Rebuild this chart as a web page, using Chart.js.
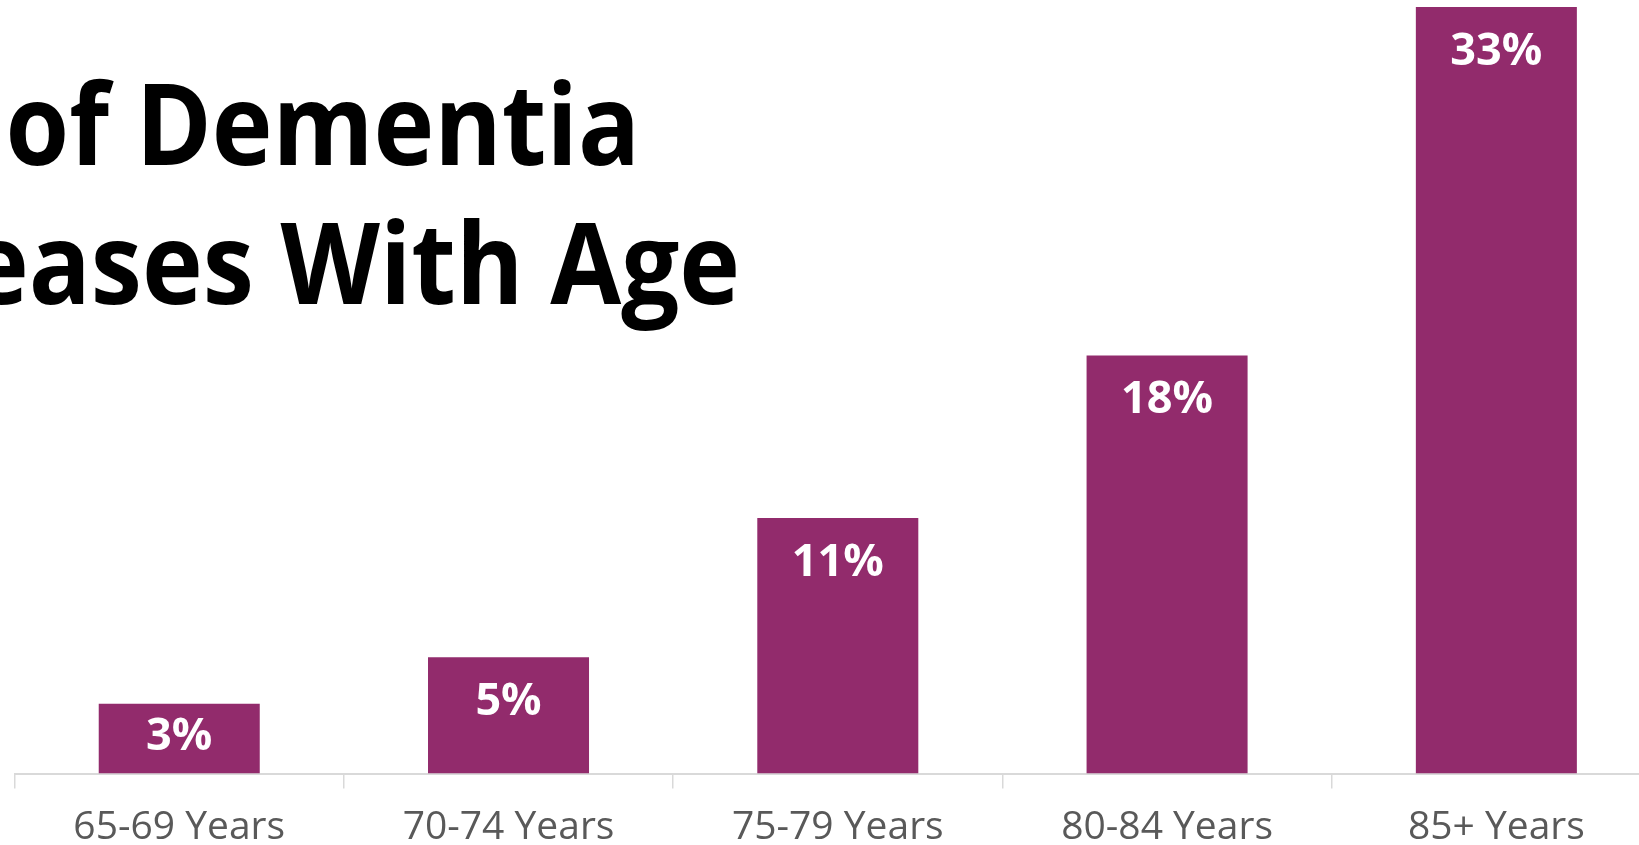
<!DOCTYPE html>
<html>
<head>
<meta charset="utf-8">
<script src="https://cdn.jsdelivr.net/npm/chart.js@4.4.1/dist/chart.umd.min.js"></script>
<style>
  html, body { margin: 0; padding: 0; background: #fff; overflow: hidden; }
  #wrap { position: absolute; left: 0; top: 0; width: 1680px; height: 845px; }
</style>
</head>
<body>
<div id="wrap"><canvas id="chart" width="1680" height="845"></canvas></div>
<script>
// data
const ageGroups = ['65-69 Years', '70-74 Years', '75-79 Years', '80-84 Years', '85+ Years'];
const dementiaPct = [3, 5, 11, 18, 33];
// title is cut off on the left in the original
const titleLines = ['of Dementia', 'eases With Age'];

const barColor = '#922b6c';
const axisGray = '#d9d9d9';

// white percentage labels inside the bars
const barLabels = {
    id: 'barLabels',
    afterDatasetsDraw(chart) {
        const ctx = chart.ctx;
        const meta = chart.getDatasetMeta(0);
        ctx.save();
        ctx.fillStyle = '#ffffff';
        ctx.font = 'bold 45px "Open Sans"';
        ctx.textAlign = 'center';
        ctx.textBaseline = 'middle';
        meta.data.forEach((bar, i) => {
            const y = Math.min(bar.y + 45, (bar.y + bar.base) / 2 - 1);
            ctx.fillText(dementiaPct[i] + '%', bar.x, y);
        });
        ctx.restore();
    }
};

// big black title, right aligned so the left side runs off the page
const bigTitle = {
    id: 'bigTitle',
    afterDraw(chart) {
        const ctx = chart.ctx;
        const rows = [[640, 165], [740, 304]];
        ctx.save();
        ctx.fillStyle = '#000';
        ctx.font = 'bold 113px "Open Sans"';
        ctx.textAlign = 'right';
        ctx.textBaseline = 'alphabetic';
        titleLines.forEach((t, i) => {
            ctx.save();
            ctx.translate(rows[i][0], rows[i][1]);
            ctx.scale(0.91, 1);
            ctx.fillText(t, 0, 0);
            ctx.restore();
        });
        ctx.restore();
    }
};

new Chart(document.getElementById('chart'), {
    type: 'bar',
    data: {
        labels: ageGroups,
        datasets: [{
            data: dementiaPct,
            backgroundColor: barColor,
            borderWidth: 0,
            categoryPercentage: 1,
            barPercentage: 0.489
        }]
    },
    options: {
        responsive: false,
        animation: false,
        devicePixelRatio: 1,
        layout: { padding: { left: 14.6, right: 19, top: 0, bottom: 0 } },
        plugins: {
            legend: { display: false },
            tooltip: { enabled: false },
            title: { display: false }
        },
        scales: {
            y: { display: false, min: 0, max: 33.3 },
            x: {
                grid: {
                    display: true,
                    drawOnChartArea: false,
                    drawTicks: true,
                    tickLength: 15,
                    color: axisGray,
                    lineWidth: 1.5,
                    offset: true
                },
                border: { display: true, color: axisGray, width: 2 },
                ticks: {
                    color: '#595959',
                    font: { family: 'Open Sans', size: 39 },
                    padding: 16,
                    maxRotation: 0
                },
                afterFit(scale) { scale.height = 71.5; }
            }
        }
    },
    plugins: [barLabels, bigTitle]
});
</script>
</body>
</html>
